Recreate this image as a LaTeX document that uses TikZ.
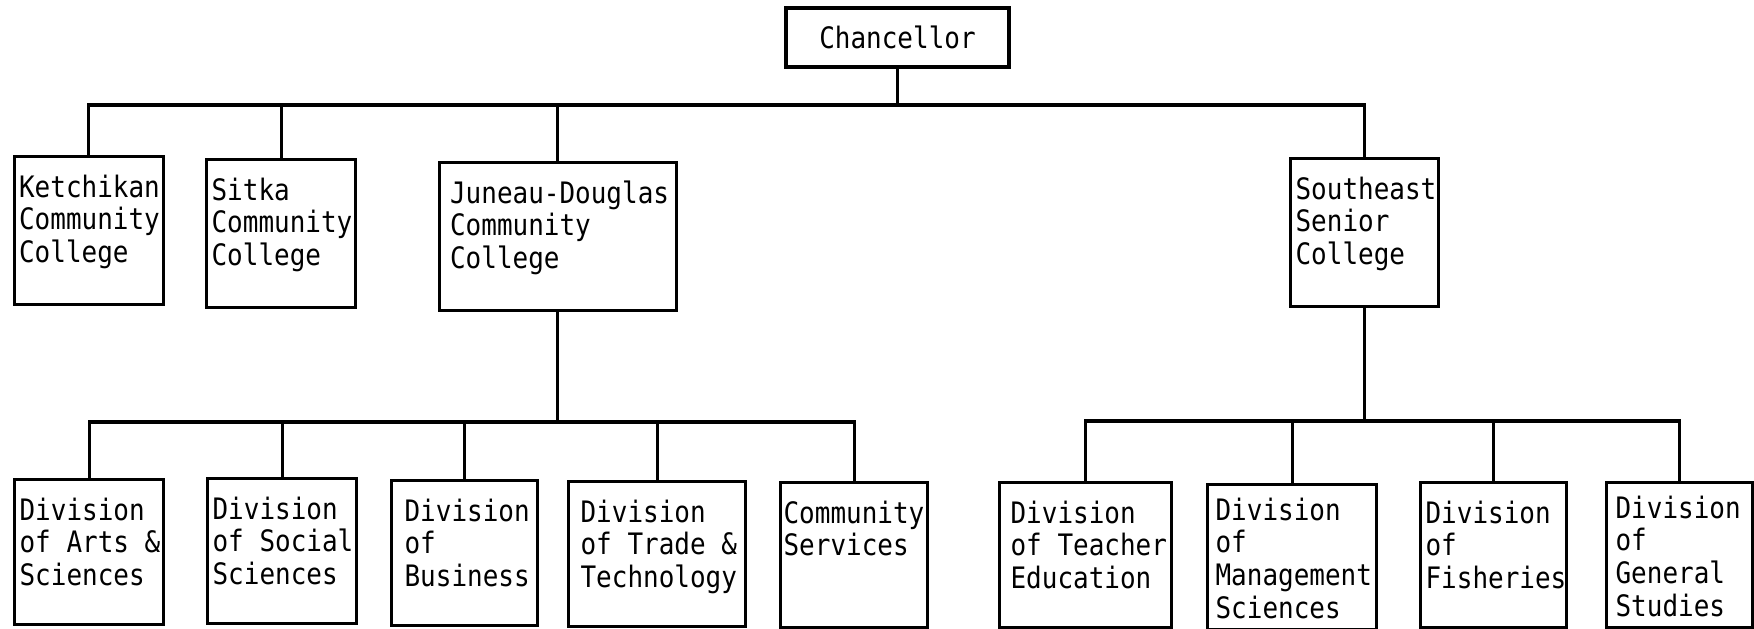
\documentclass[tikz,border=0pt]{standalone}
\usepackage{fontspec}
\newfontfamily\orgfont{DejaVu Sans Mono}[FakeStretch=0.88]
\usetikzlibrary{calc}
\tikzset{
	unit/.style={draw, line width=0.9pt, anchor=north west, inner sep=0pt, minimum height=1.48cm},
	division/.style={unit, minimum height=1.45cm},
	lbl/.style={anchor=north west, align=left, inner xsep=0.05cm, inner ysep=0.18cm, font=\orgfont\fontsize{8.4}{9.3}\selectfont},
	chief/.style={draw, line width=0.9pt, minimum width=2.23cm, minimum height=0.59cm, inner sep=0pt, font=\orgfont\fontsize{8.4}{9.3}\selectfont}
}

\begin{document}
\begin{tikzpicture}[line width=0.9pt]
	\useasboundingbox (0,0) rectangle (17.54,6.29);
	
	\node [chief] (chancellor) at (8.975,5.915) {Chancellor};
	
	\node [unit, minimum width=1.49cm, label={[lbl]north west:Ketchikan\\Community\\College}] (ketchikan) at (0.125,4.74) {};
	\node [unit, minimum width=1.49cm, label={[lbl]north west:Sitka\\Community\\College}] (sitka) at (2.05,4.71) {};
	\node [unit, minimum width=2.375cm, label={[lbl, xshift=0.06cm]north west:Juneau-Douglas\\Community\\College}] (juneau) at (4.375,4.68) {};
	\node [unit, minimum width=1.48cm, label={[lbl]north west:Southeast\\Senior\\College}] (southeast) at (12.89,4.72) {};
	
	\node [division, minimum width=1.49cm, label={[lbl]north west:Division\\of Arts \&\\Sciences}] (arts) at (0.13,1.51) {};
	\node [division, minimum width=1.49cm, label={[lbl]north west:Division\\of Social\\Sciences}] (social) at (2.06,1.52) {};
	\node [division, minimum width=1.46cm, label={[lbl, xshift=0.08cm]north west:Division\\of\\Business}] (business) at (3.90,1.50) {};
	\node [division, minimum width=1.77cm, label={[lbl, xshift=0.07cm]north west:Division\\of Trade \&\\Technology}] (trade) at (5.67,1.49) {};
	\node [division, minimum width=1.47cm, label={[lbl, xshift=-0.02cm]north west:Community\\Services}] (community) at (7.79,1.48) {};
	
	\node [division, minimum width=1.72cm, label={[lbl, xshift=0.06cm]north west:Division\\of Teacher\\Education}] (teacher) at (9.98,1.48) {};
	\node [division, minimum width=1.69cm, label={[lbl, xshift=0.03cm, yshift=0.05cm]north west:Division\\of\\Management\\Sciences}] (management) at (12.06,1.46) {};
	\node [division, minimum width=1.46cm, label={[lbl]north west:Division\\of\\Fisheries}] (fisheries) at (14.19,1.48) {};
	\node [division, minimum width=1.46cm, label={[lbl, xshift=0.04cm, yshift=0.05cm]north west:Division\\of\\General\\Studies}] (general) at (16.05,1.48) {};
	
	% bus lines
	\coordinate (topbus) at (9.00,5.24);
	\coordinate (jdbus) at (5.50,2.07);
	\coordinate (ssbus) at (13.53,2.08);
	
	\draw (chancellor.south) -- (chancellor.south |- topbus);
	\draw (ketchikan.north) |- (topbus) -| (southeast.north);
	\foreach \u in {sitka,juneau}
		\draw (\u.north) -- (\u.north |- topbus);
	
	\draw (juneau.south) -- (juneau.south |- jdbus);
	\draw (arts.north) |- (jdbus) -| (community.north);
	\foreach \u in {social,business,trade}
		\draw (\u.north) -- (\u.north |- jdbus);
	
	\draw (southeast.south) -- (southeast.south |- ssbus);
	\draw (teacher.north) |- (ssbus) -| (general.north);
	\foreach \u in {management,fisheries}
		\draw (\u.north) -- (\u.north |- ssbus);
\end{tikzpicture}
\end{document}
